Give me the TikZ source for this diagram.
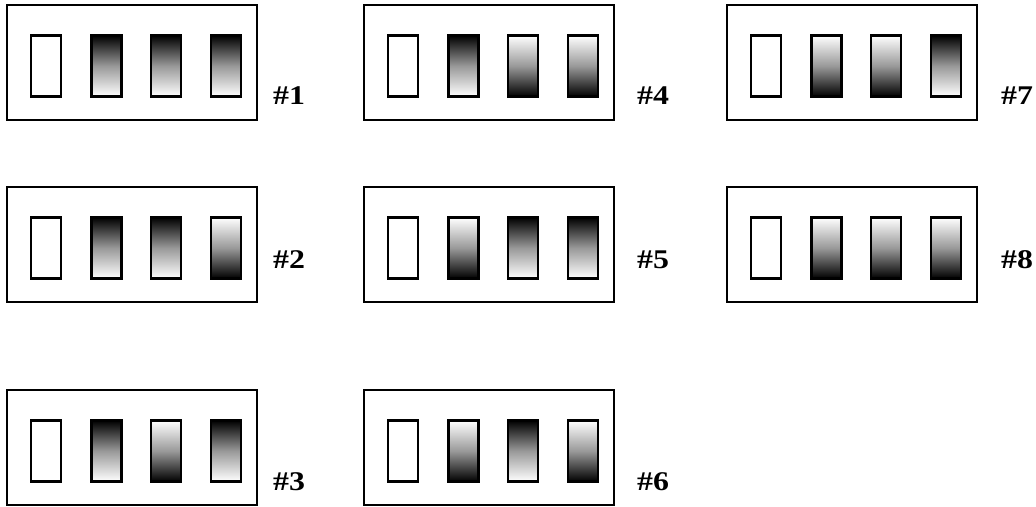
\documentclass[tikz,border=0pt]{standalone}
\usepackage{fontspec}
\setmainfont{Liberation Serif}
\newfontfamily\labfont{Liberation Serif}
\usepackage{graphicx}
\begin{document}
\begin{tikzpicture}[x=1pt,y=-1pt,
  panel/.style={draw, line width=1.9pt, minimum width=250pt, minimum height=115pt, anchor=north west, inner sep=0pt, outer sep=0pt},
  cell/.style={draw, line width=2.1pt, minimum width=30pt, minimum height=61pt, anchor=north west, inner sep=0pt, outer sep=0pt},
  dk/.style={cell, top color=black, bottom color=white, middle color=black!40},
  lt/.style={cell, top color=white, bottom color=black, middle color=black!40},
  wt/.style={cell, fill=white},
  lab/.style={anchor=base west, inner sep=0pt, font=\labfont\fontsize{27}{31}\selectfont\bfseries}]
\useasboundingbox (0,0) rectangle (1036,506);
\foreach \n/\cx/\cy/\a/\b/\c/\lx/\ly in {
  1/7/5/dk/dk/dk/273/104,
  2/7/187/dk/dk/lt/273/268,
  3/7/390/dk/lt/dk/273/490,
  4/364/5/dk/lt/lt/637/104,
  5/364/187/lt/dk/dk/637/268,
  6/364/390/lt/dk/lt/637/490,
  7/727/5/lt/lt/dk/1001/104,
  8/727/187/lt/lt/lt/1001/268}{
  \node[panel] (p\n) at (\cx,\cy) {};
  \node[wt] (c\n-1) at (\cx+24,\cy+30.5) {};
  \node[\a] (c\n-2) at (\cx+84.5,\cy+30.5) {};
  \node[\b] (c\n-3) at (\cx+144,\cy+30.5) {};
  \node[\c] (c\n-4) at (\cx+204,\cy+30.5) {};
  \node[lab] (l\n) at (\lx,\ly) {\scalebox{1.18}[1]{\#\n}};
}
\end{tikzpicture}
\end{document}
